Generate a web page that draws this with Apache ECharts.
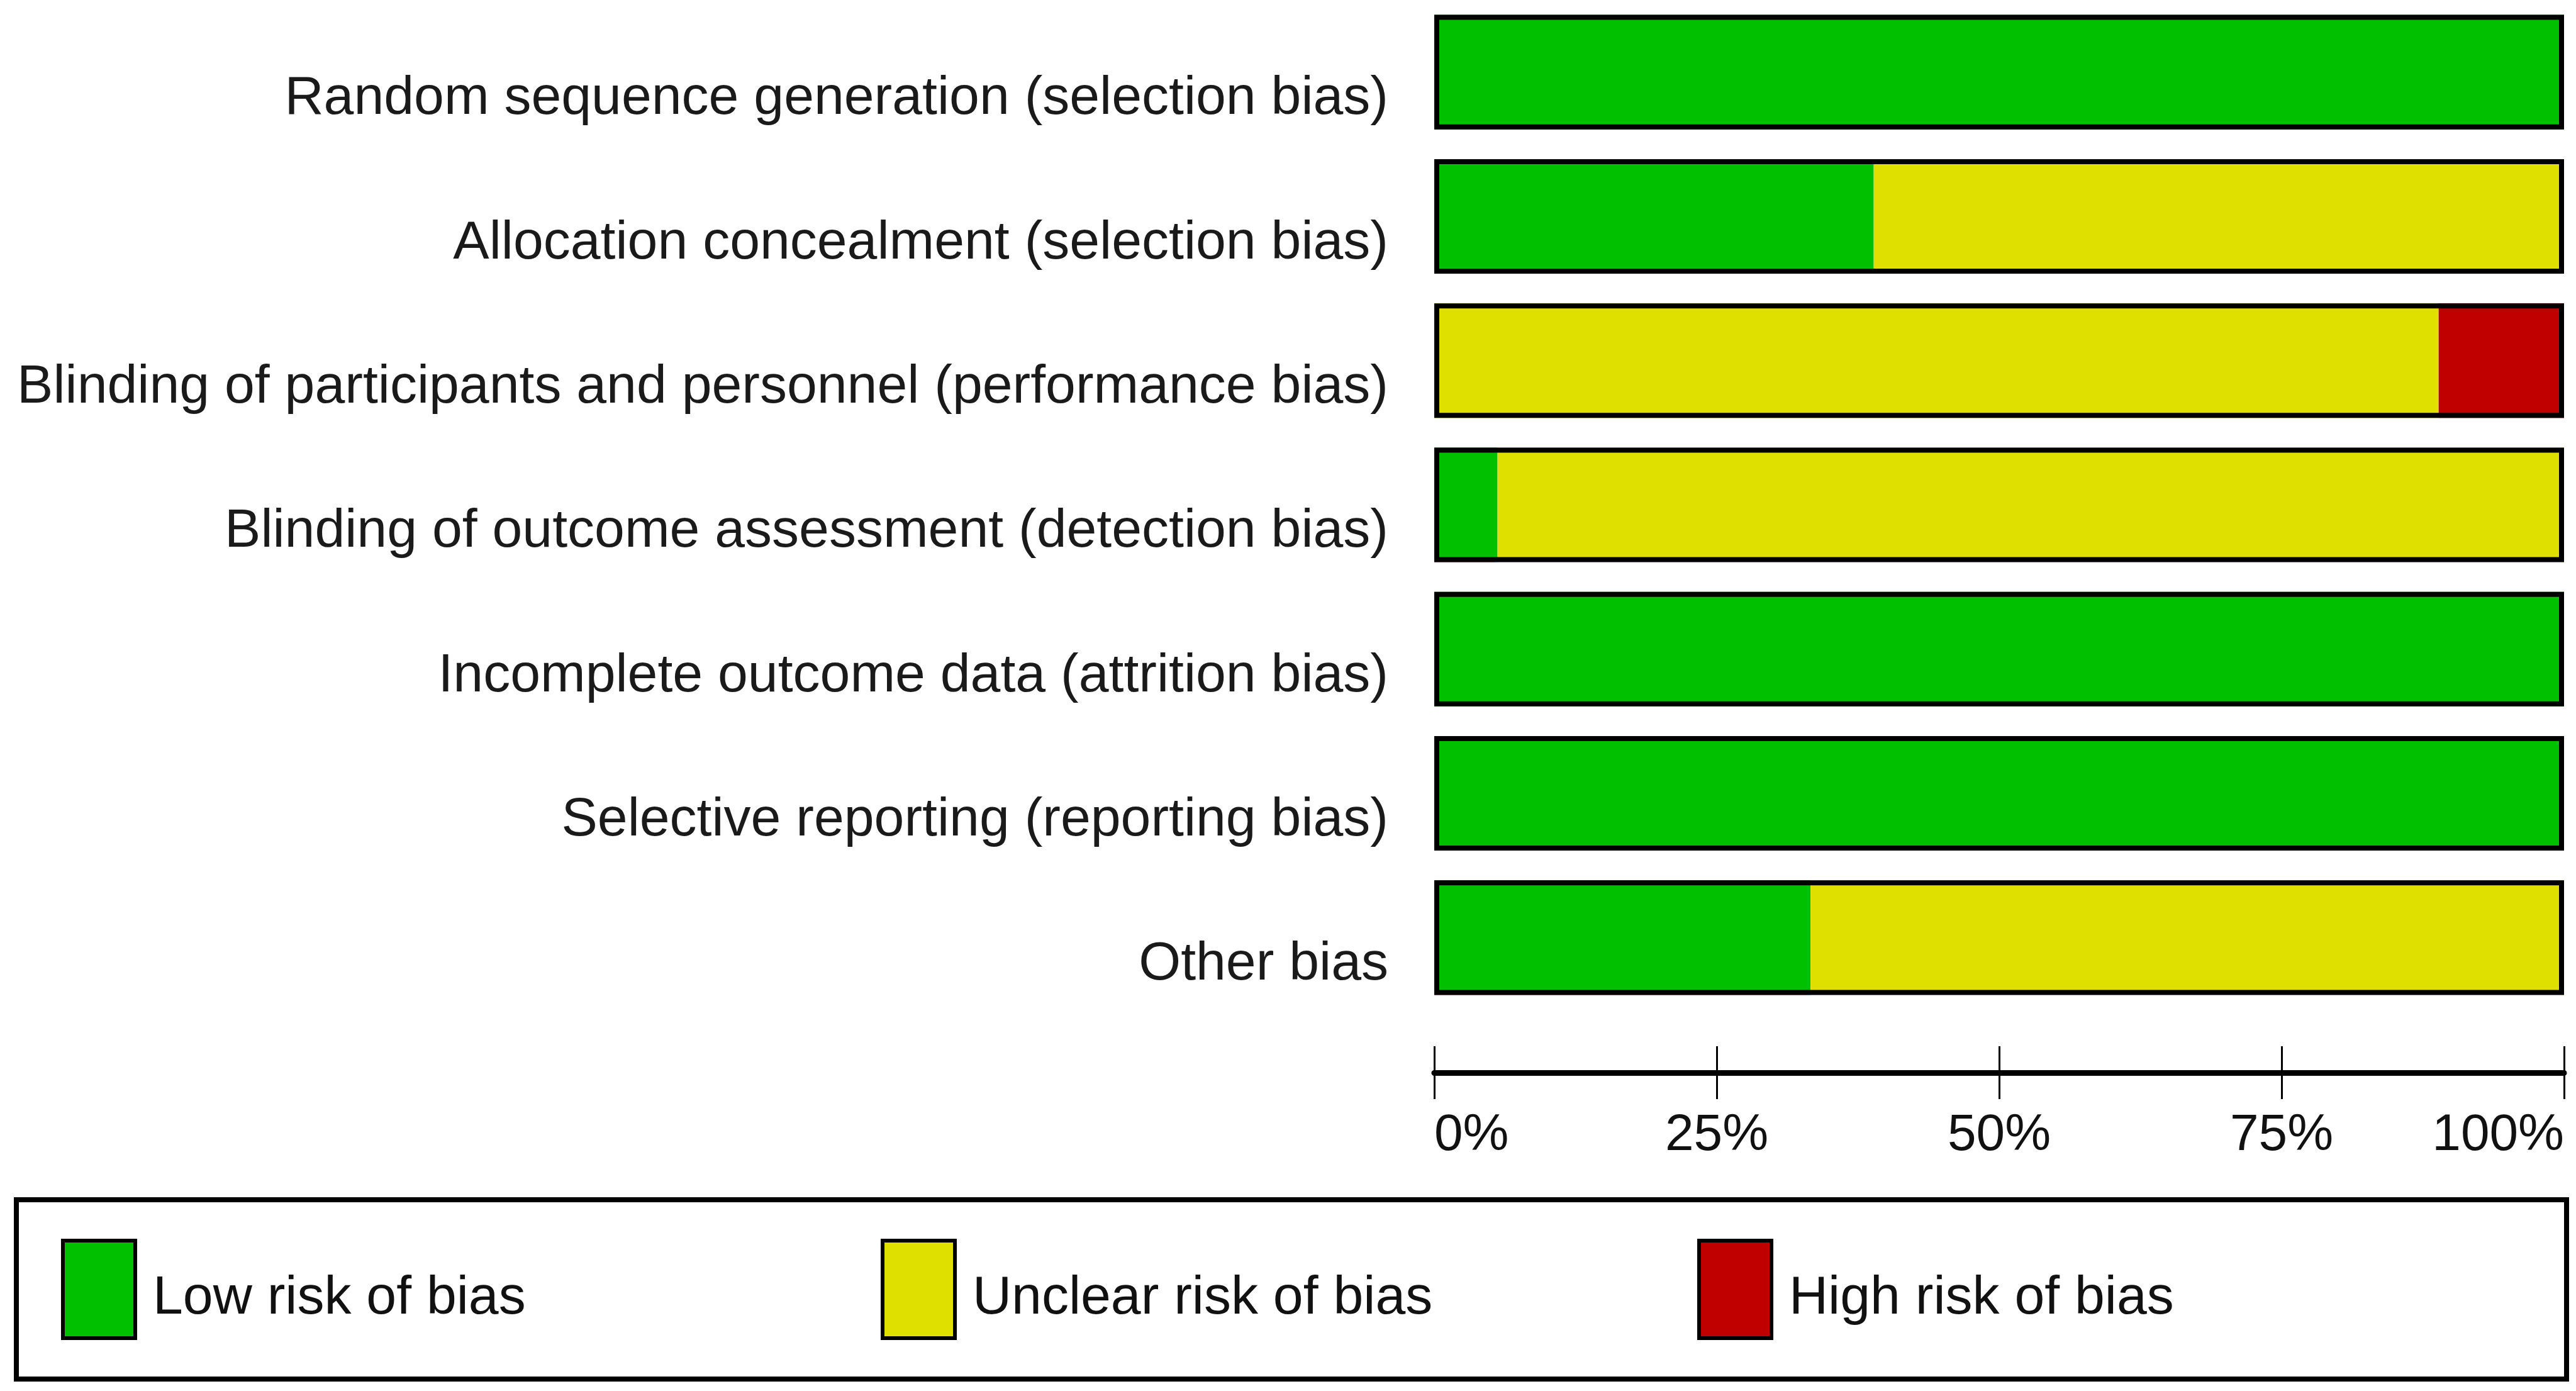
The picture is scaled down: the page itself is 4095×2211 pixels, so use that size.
<!DOCTYPE html>
<html>
<head>
<meta charset="utf-8">
<script src="https://cdn.jsdelivr.net/npm/echarts@6/dist/echarts.min.js"></script>
<style>
html,body{margin:0;padding:0;background:#fff;}
#chart{width:4095px;height:2211px;}
</style>
</head>
<body>
<div id="chart"></div>
<script>
var categories = [
  'Random sequence generation (selection bias)',
  'Allocation concealment (selection bias)',
  'Blinding of participants and personnel (performance bias)',
  'Blinding of outcome assessment (detection bias)',
  'Incomplete outcome data (attrition bias)',
  'Selective reporting (reporting bias)',
  'Other bias'
];
var lowRisk     = [100, 38.9, 0,    5.6,  100, 100, 33.3];
var unclearRisk = [0,   61.1, 88.9, 94.4, 0,   0,   66.7];
var highRisk    = [0,   0,    11.1, 0,    0,   0,   0];
var tickValues  = [0, 25, 50, 75, 100];
var legendNames = ['Low risk of bias', 'Unclear risk of bias', 'High risk of bias'];

var totals = categories.map(function (c, i) { return lowRisk[i] + unclearRisk[i] + highRisk[i]; });

var FONT = "'Liberation Sans', Arial, sans-serif";
var colors = ['#00C000', '#E0E000', '#C00000'];

var chart = echarts.init(document.getElementById('chart'), null, {renderer: 'canvas', devicePixelRatio: 1});

function legendItem(i, left) {
  return {
    data: [legendNames[i]],
    left: left, top: 1969, padding: 0,
    itemWidth: 115, itemHeight: 155,
    icon: 'rect',
    itemStyle: {borderColor: '#000', borderWidth: 6},
    formatter: '{t|{name}}',
    textStyle: {
      fontFamily: FONT, fontSize: 86, color: '#111',
      rich: {t: {fontFamily: FONT, fontSize: 86, color: '#111', padding: [30, 0, 0, 23], verticalAlign: 'bottom'}}
    }
  };
}

var option = {
  backgroundColor: '#ffffff',
  animation: false,
  grid: {left: 2280, right: 19, top: 0, height: 1605, outerBoundsMode: 'none', containLabel: false},
  legend: [legendItem(0, 97), legendItem(1, 1400), legendItem(2, 2698)],
  graphic: [{
    type: 'rect', silent: true,
    shape: {x: 26, y: 1907, width: 4054, height: 285},
    style: {fill: 'none', stroke: '#000', lineWidth: 8}
  }],
  xAxis: [{
    type: 'value', min: 0, max: 100, interval: 25, position: 'bottom', offset: 100,
    axisLine: {show: true, lineStyle: {color: '#000', width: 9}},
    axisTick: {show: true, inside: false, length: 42, lineStyle: {color: '#000', width: 3}},
    splitLine: {show: false},
    axisLabel: {
      show: true, margin: 59, fontFamily: FONT, fontSize: 82, color: '#111',
      formatter: '{value}%', alignMinLabel: 'left', alignMaxLabel: 'right'
    }
  }, {
    type: 'value', min: 0, max: 100, interval: 25, position: 'bottom', offset: 100,
    axisLine: {show: false},
    axisTick: {show: true, inside: true, length: 42, lineStyle: {color: '#000', width: 3}},
    splitLine: {show: false},
    axisLabel: {show: false}
  }],
  yAxis: {
    type: 'category', inverse: true, data: categories,
    axisLine: {show: false}, axisTick: {show: false},
    axisLabel: {
      margin: 73, fontFamily: FONT, fontSize: 86, color: '#1a1a1a',
      verticalAlign: 'top'
    }
  },
  series: [
    {name: legendNames[0], type: 'bar', stack: 'risk', data: lowRisk, barCategoryGap: '20.6%', barGap: '-100%',
     itemStyle: {color: colors[0]}},
    {name: legendNames[1], type: 'bar', stack: 'risk', data: unclearRisk, barCategoryGap: '20.6%', barGap: '-100%',
     itemStyle: {color: colors[1]}},
    {name: legendNames[2], type: 'bar', stack: 'risk', data: highRisk, barCategoryGap: '20.6%', barGap: '-100%',
     itemStyle: {color: colors[2]}},
    {name: 'outline', type: 'bar', data: totals, barCategoryGap: '20.6%', barGap: '-100%', z: 5, silent: true,
     itemStyle: {color: 'rgba(0,0,0,0)', borderColor: '#000', borderWidth: 8}}
  ]
};
chart.setOption(option);
</script>
</body>
</html>
